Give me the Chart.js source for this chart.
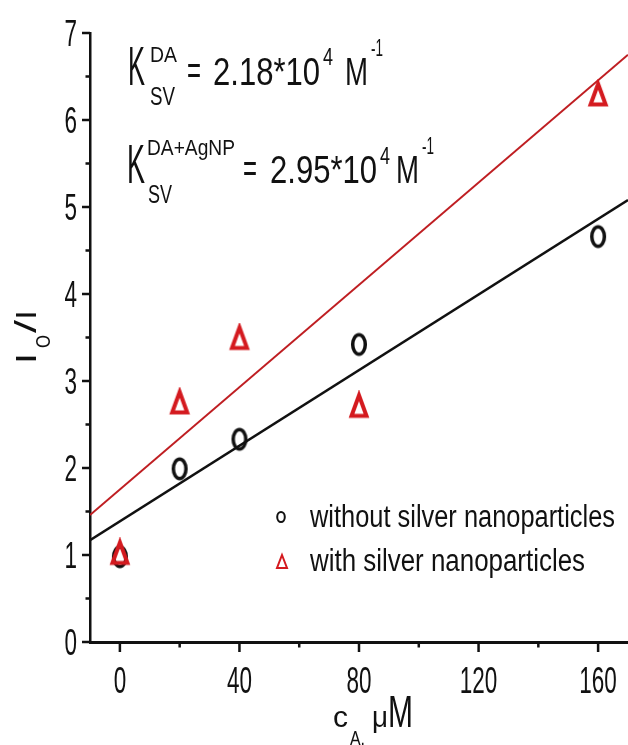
<!DOCTYPE html>
<html>
<head>
<meta charset="utf-8">
<script src="https://cdn.jsdelivr.net/npm/chart.js@4.4.1/dist/chart.umd.min.js"></script>
<style>
  html, body { margin: 0; padding: 0; background: #fff; overflow: hidden; }
  canvas { display: block; }
</style>
</head>
<body>
<canvas id="chart" width="628" height="745"></canvas>
<script>
// measured points
const concNoAg = [0, 20, 40, 80, 160];
const ratioNoAg = [0.98, 1.99, 2.33, 3.42, 4.66];
const concAg = [0, 20, 40, 80, 160];
const ratioAg = [1.03, 2.76, 3.5, 2.72, 6.3];

// linear fits, read at the plot edges
const fitX = [-10, 170];
const fitNoAg = [1.17, 5.08];
const fitAg = [1.46, 6.75];

const xTicks = [0, 40, 80, 120, 160];
const xMinor = [20, 60, 100, 140];
const yTicks = [0, 1, 2, 3, 4, 5, 6, 7];
const yMinor = [0.5, 1.5, 2.5, 3.5, 4.5, 5.5, 6.5];

const FONT = '"Liberation Sans", Arial, sans-serif';
const RED = "#d41a1f";
const RED_LINE = "#bf1e22";
const INK = "#111";

function circleMark() {
  const c = document.createElement("canvas");
  c.width = 24; c.height = 30;
  const g = c.getContext("2d");
  g.strokeStyle = INK;
  g.lineWidth = 3.5;
  g.beginPath();
  g.ellipse(12, 15, 6.3, 9.7, 0, 0, Math.PI * 2);
  g.stroke();
  return c;
}

function triangleMark() {
  const c = document.createElement("canvas");
  c.width = 26; c.height = 30;
  const g = c.getContext("2d");
  g.strokeStyle = RED;
  g.lineWidth = 4;
  g.lineJoin = "miter";
  g.beginPath();
  g.moveTo(13, 5);
  g.lineTo(20.5, 25.5);
  g.lineTo(5.5, 25.5);
  g.closePath();
  g.stroke();
  return c;
}

// text squeezed to a target width
function txt(ctx, s, x, y, size, o = {}) {
  ctx.save();
  ctx.font = (o.bold ? "bold " : "") + size + "px " + FONT;
  let sx = 1;
  if (o.w) sx = o.w / ctx.measureText(s).width;
  else if (o.digit) sx = o.digit / ctx.measureText("0").width;
  ctx.translate(x, y);
  if (o.rot) ctx.rotate(o.rot);
  ctx.scale(sx, 1);
  ctx.textAlign = o.align || "left";
  ctx.textBaseline = "alphabetic";
  ctx.fillStyle = o.color || INK;
  ctx.fillText(s, 0, 0);
  ctx.restore();
}

const decor = {
  id: "decor",
  afterDraw(chart) {
    const { ctx, scales: { x, y }, chartArea: a } = chart;
    ctx.save();
    ctx.strokeStyle = INK;
    ctx.lineWidth = 2.5;

    // ticks point outward
    ctx.beginPath();
    yTicks.forEach(v => { const p = y.getPixelForValue(v); ctx.moveTo(a.left - 8, p); ctx.lineTo(a.left, p); });
    yMinor.forEach(v => { const p = y.getPixelForValue(v); ctx.moveTo(a.left - 4.5, p); ctx.lineTo(a.left, p); });
    xTicks.forEach(v => { const p = x.getPixelForValue(v); ctx.moveTo(p, a.bottom); ctx.lineTo(p, a.bottom + 10); });
    xMinor.forEach(v => { const p = x.getPixelForValue(v); ctx.moveTo(p, a.bottom); ctx.lineTo(p, a.bottom + 5.5); });
    ctx.stroke();

    yTicks.forEach(v => txt(ctx, String(v), a.left - 13, y.getPixelForValue(v) + 13, 37, { align: "right", digit: 12.5 }));
    xTicks.forEach(v => txt(ctx, String(v), x.getPixelForValue(v), 693, 37, { align: "center", digit: 12.5 }));

    // y title  I_O/I
    ctx.save();
    ctx.translate(36, 362);
    ctx.rotate(-Math.PI / 2);
    txt(ctx, "I", 0, 0, 29, { bold: true, w: 7 });
    txt(ctx, "O", 14, 14, 20, { w: 13 });
    txt(ctx, "/", 29, 0, 29, { w: 13 });
    txt(ctx, "I", 44, 0, 29, { bold: true, w: 6 });
    ctx.restore();

    // x title  c_A, µM
    txt(ctx, "c", 333, 727, 30, { w: 15 });
    txt(ctx, "A,", 350, 745, 20, { w: 15 });
    txt(ctx, "\u03bc", 372, 727, 30, { w: 16 });
    txt(ctx, "M", 388, 727, 44, { w: 25 });

    // Stern-Volmer constants
    txt(ctx, "K", 128, 85, 56, { w: 17 });
    txt(ctx, "DA", 150, 62, 22, { w: 27 });
    txt(ctx, "SV", 150, 105, 26, { w: 25 });
    txt(ctx, "=", 187, 84, 40, { w: 14 });
    txt(ctx, "2.18*10", 213, 85, 39, { w: 107 });
    txt(ctx, "4", 323, 65, 24, { w: 10 });
    txt(ctx, "M", 345, 85, 39, { w: 23 });
    txt(ctx, "-1", 371, 56, 24, { w: 12 });

    txt(ctx, "K", 127, 183, 56, { w: 18 });
    txt(ctx, "DA+AgNP", 147, 155, 22, { w: 88 });
    txt(ctx, "SV", 148, 203, 26, { w: 24 });
    txt(ctx, "=", 243, 182, 40, { w: 14 });
    txt(ctx, "2.95*10", 270, 183, 39, { w: 107 });
    txt(ctx, "4", 380, 164, 24, { w: 10 });
    txt(ctx, "M", 396, 183, 39, { w: 23 });
    txt(ctx, "-1", 422, 154, 24, { w: 12 });

    // legend
    ctx.lineWidth = 2;
    ctx.strokeStyle = INK;
    ctx.beginPath();
    ctx.ellipse(281, 517, 3.8, 5, 0, 0, Math.PI * 2);
    ctx.stroke();
    ctx.strokeStyle = RED;
    ctx.beginPath();
    ctx.moveTo(282, 555); ctx.lineTo(287, 568); ctx.lineTo(277, 568); ctx.closePath();
    ctx.stroke();
    txt(ctx, chart.data.datasets[1].label, 310, 527, 31, { w: 305 });
    txt(ctx, chart.data.datasets[0].label, 310, 571, 31, { w: 275 });
    ctx.restore();
  }
};

new Chart(document.getElementById("chart"), {
  type: "scatter",
  data: {
    datasets: [
      {
        label: "with silver nanoparticles",
        data: concAg.map((c, i) => ({ x: c, y: ratioAg[i] })),
        pointStyle: triangleMark(),
        pointRadius: 10
      },
      {
        label: "without silver nanoparticles",
        data: concNoAg.map((c, i) => ({ x: c, y: ratioNoAg[i] })),
        pointStyle: circleMark(),
        pointRadius: 10
      },
      {
        label: "fit with",
        data: fitX.map((c, i) => ({ x: c, y: fitAg[i] })),
        showLine: true,
        borderColor: RED_LINE,
        borderWidth: 2,
        pointRadius: 0
      },
      {
        label: "fit without",
        data: fitX.map((c, i) => ({ x: c, y: fitNoAg[i] })),
        showLine: true,
        borderColor: INK,
        borderWidth: 2.6,
        pointRadius: 0
      }
    ]
  },
  options: {
    responsive: false,
    animation: false,
    devicePixelRatio: 1,
    layout: { autoPadding: false, padding: { top: 33, left: 0, right: 0, bottom: 0 } },
    plugins: { legend: { display: false }, tooltip: { enabled: false } },
    scales: {
      x: {
        type: "linear",
        min: -10,
        max: 170,
        grid: { display: false },
        ticks: { display: false },
        border: { color: INK, width: 3 },
        afterFit: s => { s.height = 103; }
      },
      y: {
        min: 0,
        max: 7,
        grid: { display: false },
        ticks: { display: false },
        border: { color: INK, width: 2.5 },
        afterFit: s => { s.width = 90; }
      }
    }
  },
  plugins: [decor]
});
</script>
</body>
</html>
